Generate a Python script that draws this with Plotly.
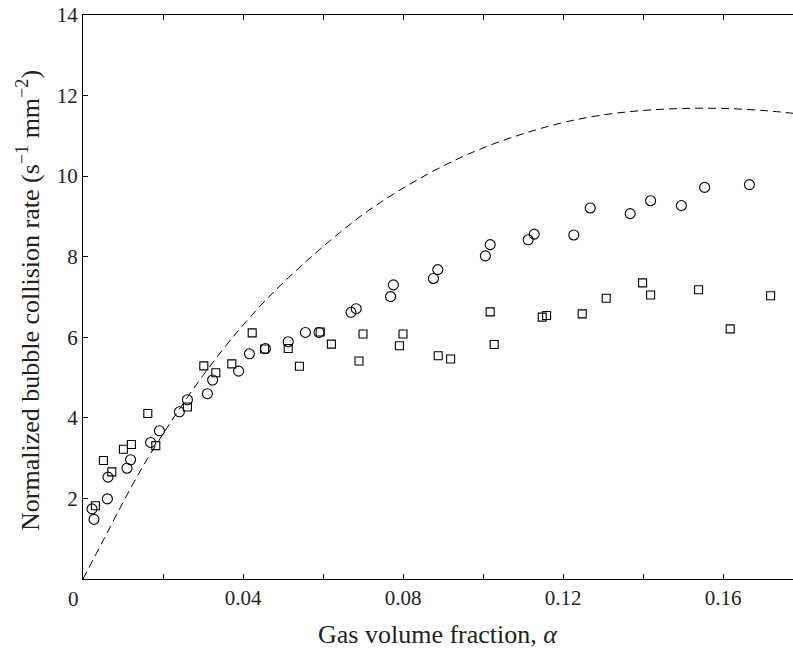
import plotly.graph_objects as go

# Circles (series 1)
circ_x = [0.00225, 0.00275, 0.0061, 0.00625, 0.011, 0.0119, 0.0169, 0.0191, 0.0241, 0.0261,
          0.0311, 0.0324, 0.0389, 0.0416, 0.0456, 0.0513, 0.0556, 0.0590, 0.0670, 0.0683,
          0.0769, 0.0776, 0.0876, 0.0887, 0.1006, 0.1018, 0.1113, 0.1128, 0.1227, 0.1268,
          0.1368, 0.1419, 0.1496, 0.1554, 0.1666]
circ_y = [1.74, 1.48, 1.99, 2.53, 2.75, 2.96, 3.39, 3.68, 4.15, 4.45,
          4.60, 4.94, 5.16, 5.59, 5.72, 5.89, 6.12, 6.12, 6.62, 6.71,
          7.01, 7.30, 7.46, 7.68, 8.02, 8.30, 8.42, 8.56, 8.54, 9.21,
          9.07, 9.39, 9.27, 9.72, 9.79]

# Squares (series 2)
sq_x = [0.0031, 0.0051, 0.0072, 0.0101, 0.0121, 0.0162, 0.0182, 0.0261, 0.0302, 0.0332,
        0.0372, 0.0423, 0.0454, 0.0513, 0.0541, 0.0593, 0.0621, 0.0690, 0.0700, 0.0791,
        0.0800, 0.0888, 0.0919, 0.1018, 0.1028, 0.1148, 0.1159, 0.1248, 0.1308, 0.1399,
        0.1419, 0.1539, 0.1618, 0.1719]
sq_y = [1.82, 2.94, 2.66, 3.22, 3.34, 4.11, 3.31, 4.27, 5.29, 5.12,
        5.34, 6.11, 5.71, 5.72, 5.28, 6.13, 5.83, 5.41, 6.08, 5.79,
        6.08, 5.54, 5.46, 6.63, 5.82, 6.50, 6.54, 6.58, 6.97, 7.35,
        7.05, 7.18, 6.21, 7.03]

# Dashed model curve
curve_x = [0, 0.005, 0.010, 0.015, 0.020, 0.025, 0.030, 0.035, 0.040, 0.045, 0.050,
           0.060, 0.070, 0.080, 0.090, 0.100, 0.110, 0.120, 0.130, 0.140, 0.150,
           0.160, 0.170, 0.1775]
curve_y = [0, 0.95, 1.9, 2.8, 3.6, 4.35, 5.05, 5.7, 6.3, 6.85, 7.35,
           8.25, 9.05, 9.7, 10.25, 10.7, 11.05, 11.33, 11.52, 11.63, 11.68,
           11.68, 11.63, 11.56]

x_tickvals = [0, 0.02, 0.04, 0.06, 0.08, 0.10, 0.12, 0.14, 0.16]
x_ticktext = ["", "", "0.04", "", "0.08", "", "0.12", "", "0.16"]
y_tickvals = [0, 2, 4, 6, 8, 10, 12, 14]
y_ticktext = ["", "2", "4", "6", "8", "10", "12", "14"]

FONT = "Liberation Serif, Times New Roman, serif"

fig = go.Figure()
fig.add_trace(go.Scatter(x=curve_x, y=curve_y, mode="lines", line_shape="spline",
                         line=dict(color="black", width=1, dash="8px,5px"),
                         showlegend=False, hoverinfo="skip"))
fig.add_trace(go.Scatter(x=circ_x, y=circ_y, mode="markers",
                         marker=dict(symbol="circle-open", size=10, color="black",
                                     line=dict(width=1.1, color="black")),
                         showlegend=False, cliponaxis=False))
fig.add_trace(go.Scatter(x=sq_x, y=sq_y, mode="markers",
                         marker=dict(symbol="square-open", size=8, color="black",
                                     line=dict(width=1.1, color="black")),
                         showlegend=False, cliponaxis=False))

fig.update_layout(
    width=793, height=651,
    margin=dict(l=83, r=0, t=15, b=72),
    paper_bgcolor="white", plot_bgcolor="white",
    font=dict(family=FONT, size=21, color="#222"),
    xaxis=dict(range=[0, 0.1775], tickvals=x_tickvals, ticktext=x_ticktext,
               ticks="inside", ticklen=5, tickwidth=1, tickcolor="black",
               showline=True, linecolor="black", linewidth=1, mirror="ticks",
               showgrid=False, zeroline=False, tickfont=dict(size=21)),
    yaxis=dict(range=[0, 14], tickvals=y_tickvals, ticktext=y_ticktext,
               ticks="inside", ticklen=5, tickwidth=1, tickcolor="black",
               showline=True, linecolor="black", linewidth=1, mirror=False,
               showgrid=False, zeroline=False, tickfont=dict(size=21)),
    annotations=[
        dict(text="0", xref="x", yref="paper", x=0, y=0, xanchor="center", yanchor="top",
             xshift=-10, yshift=-6, showarrow=False, font=dict(size=21)),
        dict(text="Gas volume fraction, <i>α</i>", xref="paper", yref="paper", x=0.5, y=0,
             xanchor="center", yanchor="middle", yshift=-55, showarrow=False,
             font=dict(size=26)),
        dict(text="Normalized bubble collision rate (s<sup>−1</sup> mm<sup>−2</sup>)",
             xref="paper", yref="paper", x=0, y=0.5, xanchor="center", yanchor="middle",
             xshift=-55, yshift=-4, textangle=-90, showarrow=False, font=dict(size=26)),
    ],
)

fig.write_html("out.html")
